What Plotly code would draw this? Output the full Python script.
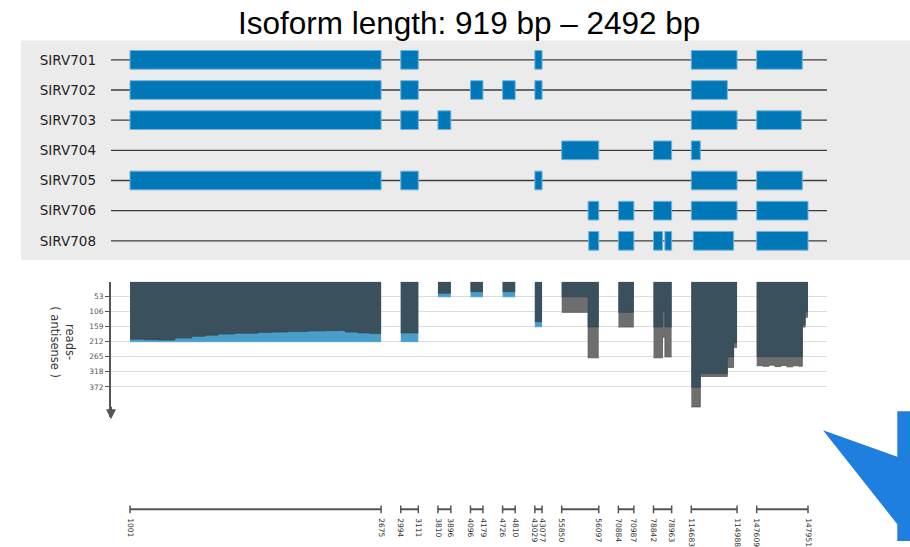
import plotly.graph_objects as go

W, H = 910, 547

title_text = "Isoform length: 919 bp – 2492 bp"

# genomic segments (union of exons) shown on the compressed coordinate axis
seg_starts = [1001, 2994, 3810, 4096, 4726, 43029, 55850, 70884, 78842, 114683, 147609]
seg_ends = [2675, 3111, 3896, 4179, 4810, 43077, 56097, 70987, 78963, 114988, 147951]
GAP = 131  # compressed width of an intron gap

isoforms = ["SIRV701", "SIRV702", "SIRV703", "SIRV704", "SIRV705", "SIRV706", "SIRV708"]
exon_starts = [
    [1001, 2994, 43029, 114683, 147609],
    [1001, 2994, 4096, 4726, 43029, 114683],
    [1001, 2994, 3810, 114683, 147609],
    [55850, 78842, 114683],
    [1001, 2994, 43029, 114683, 147609],
    [56026, 70884, 78842, 114683, 147609],
    [56030, 70884, 78842, 78918, 114696, 147609],
]
exon_ends = [
    [2675, 3111, 43077, 114988, 147913],
    [2675, 3111, 4179, 4810, 43077, 114923],
    [2675, 3111, 3896, 114988, 147906],
    [56097, 78963, 114743],
    [2675, 3111, 43077, 114988, 147913],
    [56097, 70987, 78963, 114988, 147951],
    [56097, 70987, 78902, 78963, 114965, 147951],
]

# antisense read coverage per segment (step start positions, dark layer depth, total depth)
cov_pos = [
    [1001, 1100, 1188, 1301, 1413, 1500, 1588, 1700, 1855, 1950, 2055, 2188, 2300, 2388, 2435, 2522, 2600],
    [2994],
    [3810],
    [4096],
    [4726],
    [43029],
    [55850, 56026],
    [70884],
    [78842, 78902, 78918],
    [114683, 114743, 114923, 114965],
    [147609, 147650, 147690, 147730, 147770, 147810, 147850, 147890, 147913, 147932],
]
cov_dark = [
    [203, 205, 206, 199, 193, 189, 185, 182, 179, 178, 176, 174, 173, 172, 178, 181, 183],
    [181],
    [40],
    [35],
    [35],
    [141],
    [53, 160],
    [108],
    [160, 106, 160],
    [373, 325, 266, 215],
    [265, 265, 265, 265, 265, 265, 265, 265, 152, 106],
]
cov_total = [
    [212] * 17,
    [212],
    [53],
    [53],
    [53],
    [159],
    [108, 269],
    [160],
    [269, 196, 266],
    [443, 335, 303, 232],
    [297, 299, 295, 300, 296, 301, 297, 299, 160, 125],
]
cov_kind = ["blue", "blue", "blue", "blue", "blue", "blue", "gray", "gray", "gray", "gray", "gray"]
cov_ticks = [53, 106, 159, 212, 265, 318, 372]

# ---- compressed coordinate mapping ----
offsets = []
acc = 0
for s, e in zip(seg_starts, seg_ends):
    offsets.append(acc)
    acc += (e - s) + GAP
TOTAL = acc - GAP


def comp(g):
    for off, s, e in zip(offsets, seg_starts, seg_ends):
        if s <= g <= e:
            return off + (g - s)
    raise ValueError(g)


PX_SCALE = (808 - 130) / TOTAL
X_RANGE = [-(130 - 111) / PX_SCALE, TOTAL + (827 - 808) / PX_SCALE]

EXON = "#0077b6"
DARK = "#3a505d"
BLUE = "#4a9ecb"
GRAY = "#6e6e6e"

fig = go.Figure()

# gray background panel (added first so it sits beneath intron lines)
fig.add_shape(type="rect", xref="paper", yref="paper", x0=21 / W, x1=1,
              y0=1 - 263 / H, y1=1 - 41 / H, fillcolor="#ebebeb", line=dict(width=0), layer="below")

# introns (as shapes beneath the exon bars)
for i, name in enumerate(isoforms):
    fig.add_shape(type="line", xref="x", yref="y", x0=X_RANGE[0], x1=X_RANGE[1], y0=i, y1=i,
                  line=dict(color="#3c3c3c", width=1.3), layer="below")

# exons
for i, name in enumerate(isoforms):
    b = [comp(s) for s in exon_starts[i]]
    L = [comp(e) - comp(s) for s, e in zip(exon_starts[i], exon_ends[i])]
    fig.add_trace(go.Bar(orientation="h", base=b, x=L, y=[i] * len(b), width=0.62,
                         marker=dict(color=EXON, line=dict(color="#6fb3dc", width=1)),
                         name=name, xaxis="x", yaxis="y", showlegend=False))

# coverage
for k in range(len(seg_starts)):
    xs = [comp(p) for p in cov_pos[k]] + [comp(seg_ends[k])]
    lower = cov_total[k] + [cov_total[k][-1]]
    upper = cov_dark[k] + [cov_dark[k][-1]]
    col = BLUE if cov_kind[k] == "blue" else GRAY
    fig.add_trace(go.Scatter(x=xs, y=lower, mode="lines",
                             line=dict(width=0.8, color="#555555" if col == GRAY else col, shape="hv"),
                             fill="tozeroy", fillcolor=col,
                             xaxis="x2", yaxis="y2", showlegend=False, hoverinfo="skip"))
    fig.add_trace(go.Scatter(x=xs, y=upper, mode="lines",
                             line=dict(width=0.6, color="#2f424d", shape="hv"),
                             fill="tozeroy", fillcolor=DARK,
                             xaxis="x2", yaxis="y2", showlegend=False, hoverinfo="skip"))

# exon segment scale bars
bx, by = [], []
for s, e in zip(seg_starts, seg_ends):
    bx += [comp(s), comp(e), None]
    by += [0.5, 0.5, None]
fig.add_trace(go.Scatter(x=bx, y=by, mode="lines+markers",
                         line=dict(color="#555555", width=2),
                         marker=dict(symbol="line-ns", size=7, line=dict(color="#555555", width=1.5)),
                         xaxis="x3", yaxis="y3", showlegend=False, hoverinfo="skip"))

tick_vals3 = []
tick_text3 = []
for s, e in zip(seg_starts, seg_ends):
    tick_vals3 += [comp(s), comp(e)]
    tick_text3 += [str(s), str(e)]

xdom = [111 / W, 827 / W]


def ydom(top_px, bot_px):
    return [1 - bot_px / H, 1 - top_px / H]


fig.update_layout(
    width=W, height=H, margin=dict(l=0, r=0, t=0, b=0),
    paper_bgcolor="white", plot_bgcolor="rgba(0,0,0,0)",
    barmode="overlay", showlegend=False,
    font=dict(family="DejaVu Sans"),
    xaxis=dict(domain=xdom, range=X_RANGE, visible=False, anchor="y"),
    yaxis=dict(domain=ydom(41, 263), range=[6.64, -0.64], tickvals=list(range(len(isoforms))),
               ticktext=isoforms, showgrid=False, zeroline=False, showline=False, ticks="",
               tickfont=dict(family="DejaVu Sans", size=13.5, color="#222222"),
               ticklabelstandoff=14, anchor="x"),
    xaxis2=dict(domain=xdom, range=X_RANGE, visible=False, anchor="y2"),
    yaxis2=dict(domain=ydom(285, 422), range=[480, 0], tickvals=cov_ticks,
                ticktext=[str(t) for t in cov_ticks],
                ticks="outside", ticklen=4, tickcolor="#555555", tickwidth=1,
                showline=True, linecolor="#555555", linewidth=2,
                showgrid=True, gridcolor="#dcdcdc", gridwidth=1, zeroline=False,
                tickfont=dict(size=7.5, color="#555555", family="DejaVu Sans"), anchor="x2"),
    xaxis3=dict(domain=xdom, range=X_RANGE, anchor="y3", showgrid=False, zeroline=False,
                showline=False, ticks="", tickvals=tick_vals3, ticktext=tick_text3,
                tickangle=90, ticklabelstandoff=4,
                tickfont=dict(size=7.5, color="#333333", family="DejaVu Sans")),
    yaxis3=dict(domain=ydom(511, 519), range=[0, 1], visible=False, anchor="x3"),
)

# blue callout arrow at bottom right
pts = [(823, 435), (897.3, 461.7), (897.3, 415.7), (910, 415.7), (910, 547), (897.3, 547), (897.3, 530)]
path = "M " + " L ".join(f"{x / W:.5f},{1 - y / H:.5f}" for x, y in pts) + " Z"
fig.add_shape(type="path", xref="paper", yref="paper", path=path,
              fillcolor="#1f7fde", line=dict(width=0), layer="above")

fig.add_annotation(text=title_text, xref="paper", yref="paper", x=469 / W, y=1 - 23 / H,
                   xanchor="center", yanchor="middle", showarrow=False,
                   font=dict(family="Liberation Sans", size=31.5, color="black"))
fig.add_annotation(text="reads-<br>( antisense )", xref="paper", yref="paper",
                   x=63 / W, y=1 - 346 / H, xanchor="center", yanchor="middle",
                   textangle=90, showarrow=False,
                   font=dict(family="DejaVu Sans", size=11.5, color="#333333"))
fig.add_annotation(text="", xref="paper", yref="paper", x=111 / W, y=1 - 424 / H,
                   ax=0, ay=-14, showarrow=True, arrowhead=2, arrowsize=1,
                   arrowwidth=2, arrowcolor="#555555")

fig.write_html("out.html")
